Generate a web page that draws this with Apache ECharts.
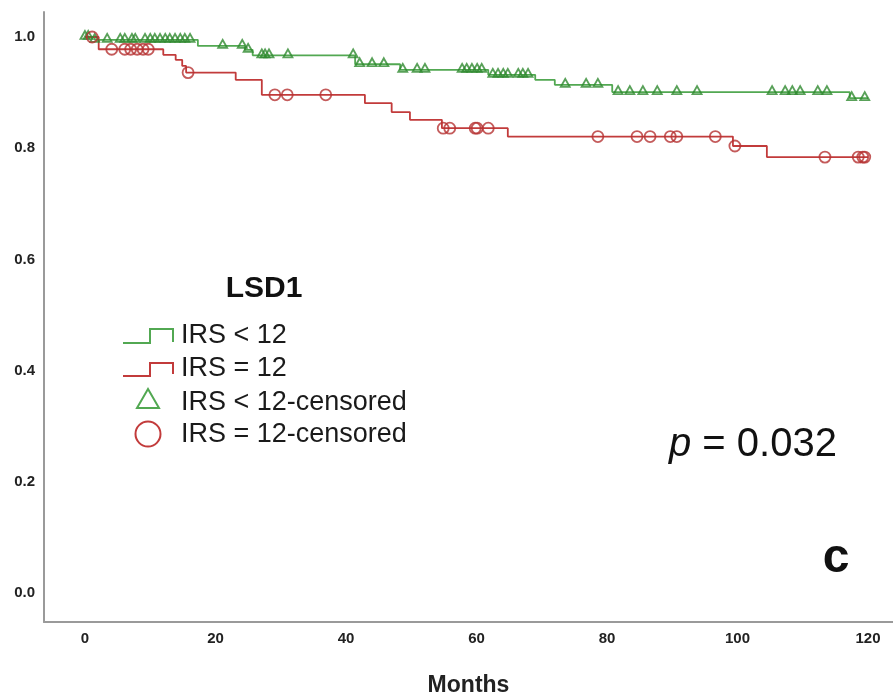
<!DOCTYPE html>
<html>
<head>
<meta charset="utf-8">
<script src="https://cdn.jsdelivr.net/npm/echarts@6/dist/echarts.min.js"></script>
<style>
html,body{margin:0;padding:0;background:#fff;}
#chart{width:893px;height:693px;}
</style>
</head>
<body>
<div id="chart"></div>
<script>
// ---- Data (months, cumulative survival) ----
const xTicks = [0, 20, 40, 60, 80, 100, 120];
const yTicks = [0.0, 0.2, 0.4, 0.6, 0.8, 1.0];

// IRS < 12 : event times and survival after each step
const lowTimes = [0, 1.5, 17.3, 24.5, 25.7, 41.4, 48.3, 61.8, 69.0, 72.0, 80.8, 117.2, 120];
const lowSurv  = [1.0, 0.995, 0.984, 0.977, 0.967, 0.951, 0.941, 0.932, 0.923, 0.914, 0.901, 0.890, 0.890];
const lowCensored = [0, 0.5, 1.5, 3.4, 5.4, 6.1, 7.2, 7.7, 9.2, 10.0, 10.7, 11.5, 12.3, 13.0, 13.8, 14.6, 15.3, 16.1,
  21.1, 24.1, 25.0, 27.1, 27.6, 28.2, 31.1, 41.1, 42.1, 44.0, 45.8, 48.7, 50.9, 52.1,
  57.8, 58.5, 59.3, 60.1, 60.8, 62.5, 63.3, 64.1, 64.8, 66.4, 67.1, 67.9, 73.6, 76.8, 78.6,
  81.7, 83.5, 85.5, 87.7, 90.7, 93.8, 105.3, 107.3, 108.4, 109.6, 112.3, 113.7, 117.5, 119.5];

// IRS = 12
const highTimes = [0, 2.1, 12.0, 13.9, 14.9, 15.5, 23.1, 27.1, 42.9, 47.0, 49.8, 54.7, 64.8, 99.3, 104.5, 120];
const highSurv  = [1.0, 0.978, 0.968, 0.959, 0.948, 0.936, 0.923, 0.896, 0.881, 0.865, 0.851, 0.836, 0.821, 0.804, 0.784, 0.784];
const highCensored = [1.1, 4.1, 6.1, 7.0, 8.0, 8.9, 9.7, 15.8, 29.1, 31.0, 36.9, 54.9, 55.9, 59.8, 60.1, 61.8,
  78.6, 84.6, 86.6, 89.7, 90.7, 96.6, 99.6, 113.4, 118.5, 119.2, 119.5];

const greenLine = '#52a852', greenMark = '#2f8a2f';
const redLine = '#c23b3b', redMark = '#b53232';

function levelAt(times, surv, t) {
  let s = surv[0];
  for (let i = 0; i < times.length; i++) { if (times[i] <= t) s = surv[i]; }
  return s;
}
const pairs = (t, s) => t.map((v, i) => [v, s[i]]);
const marks = (c, t, s) => c.map(v => [v, levelAt(t, s, v)]);

const chart = echarts.init(document.getElementById('chart'), null, {renderer: 'canvas'});
const FF = 'Liberation Sans, Arial, sans-serif';
const tickFont = {fontFamily: FF, fontWeight: 'bold', fontSize: 15, color: '#222'};

chart.setOption({
  animation: false,
  backgroundColor: '#ffffff',
  grid: {left: 44, right: 0, top: 12, bottom: 71, containLabel: false, outerBoundsMode: 'none'},
  xAxis: {
    type: 'value', min: -6.28, max: 123.83,
    axisLine: {show: true, onZero: false, lineStyle: {color: '#9a9a9a', width: 2}},
    axisTick: {show: false},
    splitLine: {show: false},
    axisLabel: Object.assign({customValues: xTicks, margin: 9, formatter: v => String(Math.round(v))}, tickFont),
    name: 'Months', nameLocation: 'middle', nameGap: 52,
    nameTextStyle: {fontFamily: FF, fontWeight: 'bold', fontSize: 23, color: '#222'}
  },
  yAxis: {
    type: 'value', min: -0.0522, max: 1.045,
    axisLine: {show: true, onZero: false, lineStyle: {color: '#9a9a9a', width: 2}},
    axisTick: {show: false},
    splitLine: {show: false},
    axisLabel: Object.assign({customValues: yTicks, margin: 9, formatter: v => v.toFixed(1)}, tickFont)
  },
  series: [
    {type: 'line', step: 'end', data: pairs(lowTimes, lowSurv), showSymbol: false, symbol: 'none',
     lineStyle: {color: greenLine, width: 1.8}, z: 2},
    {type: 'line', step: 'end', data: pairs(highTimes, highSurv), showSymbol: false, symbol: 'none',
     lineStyle: {color: redLine, width: 1.8}, z: 2},
    {type: 'scatter', data: marks(lowCensored, lowTimes, lowSurv), symbol: 'triangle', symbolSize: [9, 8],
     symbolOffset: [0, -2],
     itemStyle: {color: 'rgba(255,255,255,0)', borderColor: greenMark, borderWidth: 1.8}, z: 3},
    {type: 'scatter', data: marks(highCensored, highTimes, highSurv), symbol: 'circle', symbolSize: 11,
     itemStyle: {color: 'rgba(255,255,255,0)', borderColor: redMark, borderWidth: 1.8}, z: 3}
  ],
  graphic: [
    {type: 'text', x: 264, y: 289, style: {text: 'LSD1', fontFamily: FF, fontWeight: 'bold', fontSize: 30, fill: '#111', align: 'center', verticalAlign: 'middle'}},
    {type: 'polyline', shape: {points: [[123,343],[150,343],[150,329],[173,329],[173,342]]}, style: {stroke: greenLine, lineWidth: 2, fill: null}},
    {type: 'polyline', shape: {points: [[123,376],[150,376],[150,363],[173,363],[173,374]]}, style: {stroke: redLine, lineWidth: 2, fill: null}},
    {type: 'polygon', shape: {points: [[148,389],[137,408],[159,408]]}, style: {stroke: greenLine, lineWidth: 2, fill: null}},
    {type: 'circle', shape: {cx: 148, cy: 434, r: 12.5}, style: {stroke: redLine, lineWidth: 2, fill: null}},
    {type: 'text', x: 181, y: 336, style: {text: 'IRS < 12', fontFamily: FF, fontSize: 27, fill: '#1a1a1a', verticalAlign: 'middle'}},
    {type: 'text', x: 181, y: 369, style: {text: 'IRS = 12', fontFamily: FF, fontSize: 27, fill: '#1a1a1a', verticalAlign: 'middle'}},
    {type: 'text', x: 181, y: 403, style: {text: 'IRS < 12-censored', fontFamily: FF, fontSize: 27, fill: '#1a1a1a', verticalAlign: 'middle'}},
    {type: 'text', x: 181, y: 435, style: {text: 'IRS = 12-censored', fontFamily: FF, fontSize: 27, fill: '#1a1a1a', verticalAlign: 'middle'}},
    {type: 'text', x: 669, y: 445, style: {text: '{i|p} = 0.032', fontFamily: FF, fontSize: 40, fill: '#111', verticalAlign: 'middle',
      rich: {i: {fontStyle: 'italic', fontFamily: FF, fontSize: 40, fill: '#111'}}}},
    {type: 'text', x: 836, y: 559, style: {text: 'c', fontFamily: FF, fontWeight: 'bold', fontSize: 48, fill: '#111', align: 'center', verticalAlign: 'middle'}}
  ]
});
</script>
</body>
</html>
